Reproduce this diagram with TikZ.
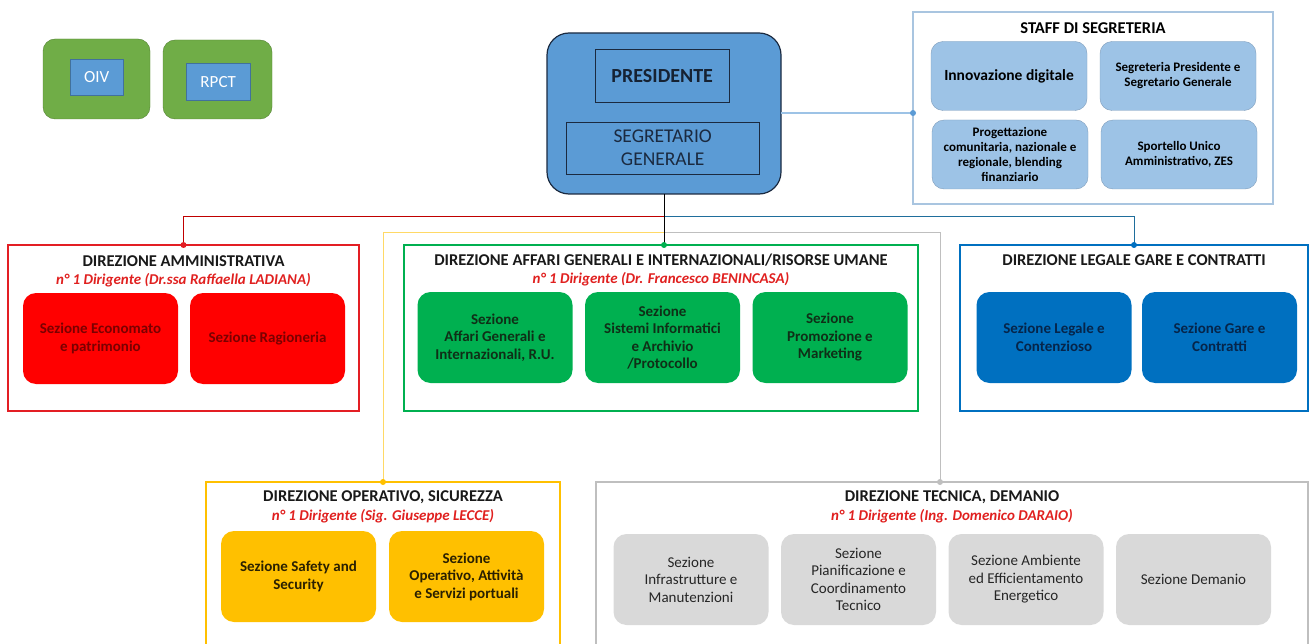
\documentclass[tikz,border=0pt]{standalone}
\usepackage{fontspec}
\setmainfont{Carlito}
\usetikzlibrary{positioning,calc}
\definecolor{cOut}{HTML}{70AD47}
\definecolor{cOutD}{HTML}{548235}
\definecolor{cSky}{HTML}{5B9BD5}
\definecolor{cSkyD}{HTML}{41719C}
\definecolor{cNavy}{HTML}{1B2A40}
\definecolor{cStaff}{HTML}{9DC3E6}
\definecolor{cStaffD}{HTML}{7F9DBB}
\definecolor{cStaffL}{HTML}{A9C5E0}
\definecolor{cRed}{HTML}{FF0000}
\definecolor{cRedB}{HTML}{E31E24}
\definecolor{cRedTxt}{HTML}{7A0000}
\definecolor{cRedLn}{HTML}{C00000}
\definecolor{cSub}{HTML}{E0201F}
\definecolor{cGrn}{HTML}{00B050}
\definecolor{cGrnTxt}{HTML}{0F2F17}
\definecolor{cBlu}{HTML}{0070C0}
\definecolor{cBluTxt}{HTML}{06254A}
\definecolor{cBluLn}{HTML}{1F6E9C}
\definecolor{cYel}{HTML}{FFC000}
\definecolor{cYelTxt}{HTML}{2A2000}
\definecolor{cYelLn}{HTML}{FFD966}
\definecolor{cGry}{HTML}{D9D9D9}
\definecolor{cGryB}{HTML}{BFBFBF}
\definecolor{cGryTxt}{HTML}{262626}
\tikzset{
    dirbox/.style = {draw, line width=2.5pt, anchor=north west,
        outer sep=0pt, inner sep=0pt},
    sec/.style = {rounded corners=13pt, minimum width=155pt,
        minimum height=91pt, inner sep=2pt, align=center,
        font=\fontsize{15}{17.5}\selectfont\bfseries},
    secR/.style = {sec, fill=cRed, text=cRedTxt},
    secG/.style = {sec, fill=cGrn, text=cGrnTxt},
    secB/.style = {sec, fill=cBlu, text=cBluTxt},
    secY/.style = {sec, fill=cYel, text=cYelTxt},
    secT/.style = {sec, fill=cGry, text=cGryTxt,
        font=\fontsize{15}{17.5}\selectfont},
    staffsec/.style = {sec, draw=cStaffD, fill=cStaff, text=black,
        minimum width=156pt, minimum height=69pt, rounded corners=12pt,
        font=\fontsize{13}{15}\selectfont\bfseries},
    dtitle/.style = {font=\fontsize{16.5}{19}\selectfont\bfseries, text=black!90},
    dsub/.style = {font=\fontsize{15}{18}\selectfont\bfseries\itshape, text=cSub},
    outbox/.style = {draw=cOutD, fill=cOut, rounded corners=12pt,
        anchor=north west, outer sep=0pt},
    inbox/.style = {draw=cSkyD, fill=cSky, text=white, anchor=north west,
        font=\fontsize{17}{20}\selectfont, inner sep=0pt},
    dot/.style = {circle, fill, inner sep=0pt, minimum size=6pt}
}

\begin{document}
\begin{tikzpicture}[x=1pt, y=-1pt]
    \useasboundingbox (0,0) rectangle (1311,644);
    % top left
    \node [outbox, minimum width=107pt, minimum height=80pt] (oivO) at (43,39) {};
    \node [inbox, minimum width=53pt, minimum height=36pt] (oiv) at (70,59) {OIV};
    \node [outbox, minimum width=109pt, minimum height=79pt] (rpctO) at (163,40) {};
    \node [inbox, minimum width=64pt, minimum height=37pt] (rpct) at (186,63) {RPCT};
    % vertice
    \node [draw=cNavy, fill=cSky, line width=1.2pt, rounded corners=22pt, anchor=north west,
        outer sep=0pt, minimum width=234pt, minimum height=161pt] (pres) at (547,33) {};
    \node [draw=cNavy, anchor=north west, minimum width=134pt, minimum height=53pt,
        font=\fontsize{20}{23}\selectfont\bfseries, text=cNavy!80!black] (presT) at (595,49) {PRESIDENTE};
    \node [draw=cNavy, anchor=north west, minimum width=193pt, minimum height=52pt, align=center,
        inner sep=0pt, font=\fontsize{19.5}{23}\selectfont, text=cNavy] (segG) at (566,122) {SEGRETARIO\\GENERALE};
    % staff
    \node [dirbox, draw=cStaffL, line width=2pt, minimum width=360pt, minimum height=192pt] (staff) at (913,12) {};
    \node [font=\fontsize{16.5}{19}\selectfont\bfseries] (staffT) at ($(staff.north)+(0,16)$) {STAFF DI SEGRETERIA};
    \node [staffsec, font=\fontsize{15.5}{18}\selectfont\bfseries] (st1) at (1009,76) {Innovazione digitale};
    \node [staffsec, right of=st1, node distance=169pt] (st2) {Segreteria Presidente e\\Segretario Generale};
    \node [staffsec] (st3) at (1010,154.5) {Progettazione\\comunitaria, nazionale e\\regionale, blending\\finanziario};
    \node [staffsec, right of=st3, node distance=169pt] (st4) {Sportello Unico\\Amministrativo, ZES};
    \draw [cStaff, line width=1.5pt] (pres.east |- 0,113) -- (staff.west |- 0,113);
    \node [dot, cSky] at (staff.west |- 0,113) {};
    % direzioni
    \node [dirbox, draw=cRedB, minimum width=351pt, minimum height=166pt] (dirAmm) at (8,245) {};
    \node [dtitle] at ($(dirAmm.north)+(0,16)$) {DIREZIONE AMMINISTRATIVA};
    \node [dsub] at ($(dirAmm.north)+(0,35)$) {n° 1 Dirigente (Dr.ssa Raffaella LADIANA)};
    \node [secR] (amm1) at (100.5,338.5) {Sezione Economato\\e patrimonio};
    \node [secR, right of=amm1, node distance=167pt] (amm2) {Sezione Ragioneria};

    \node [dirbox, draw=cGrn, minimum width=514pt, minimum height=166pt] (dirAG) at (404,245) {};
    \node [dtitle] at ($(dirAG.north)+(0,15)$) {DIREZIONE AFFARI GENERALI E INTERNAZIONALI/RISORSE UMANE};
    \node [dsub] at ($(dirAG.north)+(0,34)$) {n° 1 Dirigente (Dr. Francesco BENINCASA)};
    \node [secG] (ag1) at (495,337.5) {Sezione\\Affari Generali e\\Internazionali, R.U.};
    \node [secG, right of=ag1, node distance=167.5pt] (ag2) {Sezione\\Sistemi Informatici\\e Archivio\\/Protocollo};
    \node [secG, right of=ag2, node distance=167.5pt] (ag3) {Sezione\\Promozione e\\Marketing};

    \node [dirbox, draw=cBlu, minimum width=348pt, minimum height=166pt] (dirLeg) at (960,245) {};
    \node [dtitle] at ($(dirLeg.north)+(0,15)$) {DIREZIONE LEGALE GARE E CONTRATTI};
    \node [secB] (leg1) at (1054,337.5) {Sezione Legale e\\Contenzioso};
    \node [secB, right of=leg1, node distance=165.5pt] (leg2) {Sezione Gare e\\Contratti};

    \node [dirbox, draw=cYel, minimum width=354pt, minimum height=180pt] (dirOp) at (206,482) {};
    \node [dtitle] at ($(dirOp.north)+(0,15)$) {DIREZIONE OPERATIVO, SICUREZZA};
    \node [dsub] at ($(dirOp.north)+(0,34)$) {n° 1 Dirigente (Sig. Giuseppe LECCE)};
    \node [secY] (op1) at (298.5,576.5) {Sezione Safety and\\Security};
    \node [secY, right of=op1, node distance=168pt] (op2) {Sezione\\Operativo, Attività\\e Servizi portuali};

    \node [dirbox, draw=cGryB, minimum width=712pt, minimum height=180pt] (dirTec) at (596,482) {};
    \node [dtitle] at ($(dirTec.north)+(0,15)$) {DIREZIONE TECNICA, DEMANIO};
    \node [dsub] at ($(dirTec.north)+(0,34)$) {n° 1 Dirigente (Ing. Domenico DARAIO)};
    \node [secT] (tec1) at (691,579.5) {Sezione\\Infrastrutture e\\Manutenzioni};
    \node [secT, right of=tec1, node distance=167.5pt] (tec2) {Sezione\\Pianificazione e\\Coordinamento\\Tecnico};
    \node [secT, right of=tec2, node distance=167.5pt] (tec3) {Sezione Ambiente\\ed Efficientamento\\Energetico};
    \node [secT, right of=tec3, node distance=167.5pt] (tec4) {Sezione Demanio};
    % collegamenti
    \coordinate (jA) at ($(pres.south)+(0,22)$);
    \coordinate (jB) at ($(pres.south)+(0,39)$);
    \coordinate (tecIn) at (940,482);
    \draw [cRedLn] (jA) -| (dirAmm.north);
    \draw [cBluLn] (jA) -| (dirLeg.north);
    \draw [cYelLn, line width=1pt] (jB) -| (dirOp.north);
    \draw [cGryB, line width=1pt] (jB) -| (tecIn);
    \draw [black] (pres.south) -- (pres.south |- dirAG.north);
    \node [dot, cRedB] at (dirAmm.north) {};
    \node [dot, cBlu] at (dirLeg.north) {};
    \node [dot, cGrn] at (pres.south |- dirAG.north) {};
    \node [dot, cYel] at (dirOp.north) {};
    \node [dot, cGryB] at (tecIn) {};
\end{tikzpicture}
\end{document}
